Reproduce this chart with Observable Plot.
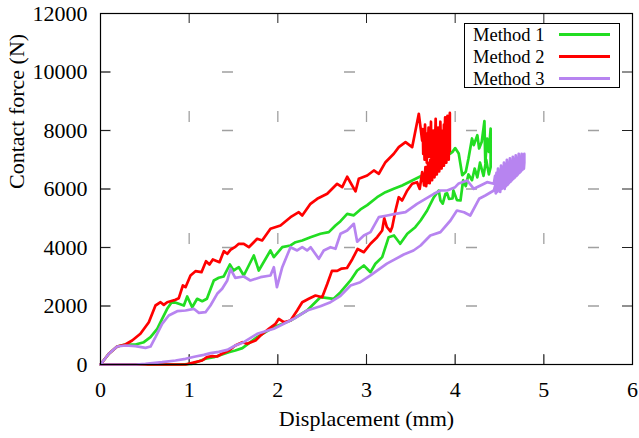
<!DOCTYPE html>
<html>
<head>
<meta charset="utf-8">
<script src="https://cdn.jsdelivr.net/npm/d3@7"></script>
<script src="https://cdn.jsdelivr.net/npm/@observablehq/plot@0.6"></script>
<style>
  body { margin: 0; background: #fff; }
  #wrap { position: relative; width: 639px; height: 438px; font-family: "Liberation Serif", "Times New Roman", serif; }
  #wrap svg text { font-family: "Liberation Serif", "Times New Roman", serif; }
  #legend { position: absolute; left: 464px; top: 23px; width: 156px; height: 65px; box-sizing: border-box;
            border: 1px solid #000; background: #fff; }
  .row { position: absolute; left: 8px; height: 22px; line-height: 22px; font-size: 18.5px; color: #000; white-space: nowrap; }
  .swatch { position: absolute; left: 94px; width: 51px; height: 3px; }
</style>
</head>
<body>
<div id="wrap"><div id="legend"></div></div>
<script>
// ---- data ----
const methods = ["Method 1", "Method 2", "Method 3"];
const colors = ["#22dd22", "#ff0000", "#b784f0"];
const xTicks = [0, 1, 2, 3, 4, 5, 6];
const yTicks = [0, 2000, 4000, 6000, 8000, 10000, 12000];
const xGrid = [1, 2, 3, 4, 5];
const yGrid = [2000, 4000, 6000, 8000, 10000];

// Method 1 (green): upper branch and lower branch
const m1Load = [[0,0],[0.094,366],[0.188,615],[0.28,684],[0.395,684],[0.489,763],[0.564,934],[0.64,1220],[0.695,1562],[0.752,1904],[0.809,2154],[0.883,2075],[0.94,2017],[0.978,2325],[1.034,1959],[1.09,2246],[1.147,2164],[1.2,2246],[1.278,2872],[1.334,2964],[1.39,3009],[1.459,3419],[1.5,3214],[1.56,3327],[1.616,3043],[1.729,3727],[1.785,3214],[1.917,3898],[1.955,3670],[2.05,4011],[2.143,4069],[2.2,4181],[2.275,4240],[2.368,4353],[2.481,4469],[2.575,4525],[2.65,4752],[2.707,4900],[2.782,5150],[2.857,5100],[2.932,5300],[3.008,5450],[3.12,5720],[3.214,5891],[3.308,6006],[3.402,6120],[3.515,6291],[3.628,6462],[3.703,6633],[3.76,6700],[3.81,6650],[3.85,6900],[3.87,7043],[3.91,7385],[3.94,7200],[3.97,7270],[4.0,7400],[4.04,7215],[4.08,6470],[4.12,6590],[4.15,7040],[4.19,7727],[4.21,7500],[4.25,7840],[4.27,7385],[4.3,7614],[4.33,8320],[4.34,6900],[4.36,7727],[4.38,7270],[4.4,8069]];
const m1Lower = [[0,0],[0.9,0],[1.034,24],[1.11,113],[1.184,195],[1.278,250],[1.372,342],[1.447,421],[1.52,480],[1.6,560],[1.767,934],[1.955,1275],[2.143,1504],[2.33,1846],[2.48,2301],[2.63,2246],[2.707,2472],[2.82,2872],[2.895,3214],[2.97,3385],[3.045,3156],[3.1,3443],[3.177,3670],[3.25,4353],[3.31,4411],[3.38,4127],[3.46,4469],[3.55,4695],[3.61,4923],[3.684,5265],[3.76,5720],[3.815,5949],[3.834,5607],[3.86,5500],[3.89,5836],[3.91,5850],[3.93,5665],[3.97,5675],[3.98,5950],[4.02,5620],[4.06,5607],[4.09,6300],[4.12,6100],[4.15,6500],[4.19,6300],[4.22,6700],[4.25,6400],[4.28,6900],[4.32,6450],[4.35,7000],[4.38,6500],[4.4,6750]];

// Method 2 (red)
const m2Load = [[0,0],[0.094,366],[0.188,615],[0.28,684],[0.357,820],[0.45,1050],[0.545,1446],[0.62,2017],[0.677,2130],[0.714,2040],[0.752,2130],[0.846,2212],[0.883,2267],[0.929,2701],[0.959,2643],[1.015,3043],[1.071,3190],[1.139,3156],[1.19,3532],[1.229,3419],[1.267,3590],[1.342,3498],[1.391,3874],[1.429,3785],[1.466,3922],[1.515,4011],[1.56,4127],[1.616,4127],[1.673,4011],[1.767,4297],[1.823,4240],[1.917,4640],[2.03,4752],[2.143,5036],[2.236,5207],[2.275,5094],[2.368,5494],[2.444,5665],[2.557,5836],[2.669,6178],[2.726,6062],[2.782,6420],[2.876,5920],[2.913,6349],[3.008,6462],[3.083,6633],[3.139,6520],[3.214,6917],[3.308,7204],[3.364,7430],[3.44,7600],[3.515,7430],[3.59,8571],[3.628,7659],[3.635,8050],[3.64,7200],[3.648,7850],[3.655,7000],[3.66,8200],[3.667,7400],[3.673,7900],[3.68,6900],[3.686,7700],[3.692,7300],[3.70,8100],[3.706,7100],[3.712,7800],[3.72,7400],[3.727,8300],[3.733,7000],[3.74,7600],[3.747,7300],[3.753,8000],[3.76,7150],[3.767,7900],[3.773,7500],[3.78,8400],[3.787,7200],[3.793,7700],[3.80,7400],[3.807,8100],[3.813,7100],[3.82,7800],[3.827,7600],[3.833,8300],[3.84,7300],[3.847,7900],[3.853,7500],[3.86,8000],[3.867,7200],[3.873,8200],[3.88,7700],[3.887,8450],[3.893,7400],[3.90,8100],[3.907,7800],[3.913,8500],[3.92,7500],[3.927,8200],[3.933,7900],[3.94,8600]];
const m2Lower = [[0,0],[0.96,0],[1.07,80],[1.147,137],[1.2,250],[1.26,285],[1.316,274],[1.37,366],[1.45,479],[1.52,650],[1.6,763],[1.654,707],[1.748,820],[1.805,991],[1.898,1220],[1.974,1391],[2.011,1562],[2.067,1446],[2.143,1504],[2.218,1846],[2.275,2130],[2.349,2246],[2.425,2359],[2.5,2301],[2.557,2750],[2.61,3200],[2.67,3200],[2.72,3280],[2.78,3300],[2.84,3600],[2.9,3950],[2.97,3840],[3.045,4127],[3.12,4353],[3.177,4582],[3.2,5000],[3.23,4700],[3.27,4550],[3.29,4700],[3.327,5265],[3.364,5720],[3.402,5607],[3.46,5949],[3.515,6178],[3.57,6233],[3.6,6000],[3.628,6575],[3.65,6120],[3.665,6746],[3.673,6100],[3.68,6500],[3.687,6200],[3.693,6900],[3.70,6300],[3.707,6700],[3.713,6200],[3.72,7000],[3.727,6400],[3.733,6800],[3.74,6300],[3.747,7100],[3.753,6500],[3.76,6900],[3.767,6400],[3.773,7200],[3.78,6700],[3.787,7000],[3.793,6500],[3.80,7300],[3.807,6700],[3.813,7100],[3.82,6600],[3.827,7400],[3.833,6800],[3.84,7200],[3.847,6700],[3.853,7600],[3.86,6900],[3.867,7300],[3.873,6800],[3.88,7700],[3.887,7000],[3.893,7500],[3.90,6900],[3.907,7900],[3.913,7100],[3.92,7600],[3.927,7000],[3.933,7800],[3.94,7300]];

// Method 3 (purple)
const m3Load = [[0,0],[0.094,366],[0.188,615],[0.28,650],[0.395,626],[0.507,570],[0.564,615],[0.62,934],[0.695,1390],[0.77,1675],[0.865,1822],[0.959,1846],[1.052,1904],[1.11,1767],[1.184,1788],[1.24,2017],[1.316,2417],[1.372,2588],[1.43,2872],[1.466,3272],[1.52,2964],[1.616,3009],[1.69,2872],[1.805,2985],[1.917,3043],[1.955,3327],[1.99,2643],[2.05,3327],[2.143,4011],[2.218,3898],[2.275,4011],[2.33,3898],[2.37,4011],[2.462,3614],[2.518,3898],[2.594,4011],[2.65,3956],[2.707,4469],[2.782,4582],[2.857,4810],[2.895,4200],[2.97,4411],[3.045,4525],[3.139,5036],[3.233,5094],[3.327,5150],[3.44,5207],[3.57,5493],[3.665,5665],[3.76,5836],[3.834,5949],[3.91,5949],[4.0,6062],[4.04,6190],[4.136,6291],[4.21,6006],[4.286,6120],[4.36,6233],[4.436,6178],[4.45,6450],[4.458,6150],[4.466,6550],[4.475,6250],[4.483,6700],[4.492,6300],[4.50,6600],[4.508,6250],[4.517,6800],[4.525,6400],[4.533,6700],[4.542,6350],[4.55,6900],[4.558,6450],[4.567,6750],[4.575,6400],[4.583,7000],[4.592,6500],[4.60,6850],[4.608,6550],[4.617,7050],[4.625,6600],[4.633,6900],[4.642,6500],[4.65,7100],[4.658,6700],[4.667,6950],[4.675,6600],[4.683,7150],[4.692,6750],[4.70,7000],[4.708,6700],[4.717,7200],[4.725,6800],[4.733,7050],[4.742,6750],[4.75,7200],[4.758,6850],[4.767,7150],[4.775,6900],[4.78,7200]];
const m3Lower = [[0,0],[0.4,0],[0.507,24],[0.695,80],[0.846,137],[0.959,195],[1.071,274],[1.165,330],[1.24,387],[1.334,433],[1.43,502],[1.52,650],[1.616,763],[1.767,1050],[1.955,1220],[2.067,1391],[2.18,1562],[2.33,1846],[2.48,1990],[2.594,2130],[2.707,2350],[2.82,2701],[2.93,2814],[3.045,3050],[3.23,3450],[3.42,3760],[3.53,3898],[3.61,4069],[3.72,4411],[3.834,4525],[3.947,4923],[4.02,5265],[4.1,5207],[4.17,5094],[4.27,5665],[4.34,5778],[4.436,5949],[4.45,6100],[4.458,5850],[4.466,6200],[4.475,5900],[4.483,6250],[4.492,5950],[4.50,6300],[4.508,5900],[4.517,6350],[4.525,6000],[4.533,6400],[4.542,6050],[4.55,6350],[4.558,6000],[4.567,6500],[4.575,6100],[4.583,6450],[4.592,6150],[4.60,6600],[4.608,6200],[4.617,6550],[4.625,6250],[4.633,6700],[4.642,6300],[4.65,6650],[4.658,6350],[4.667,6800],[4.675,6400],[4.683,6750],[4.692,6450],[4.70,6900],[4.708,6500],[4.717,6850],[4.725,6550],[4.733,7000],[4.742,6600],[4.75,6950],[4.758,6650],[4.767,7100],[4.775,6700],[4.78,6900]];

// ---- build table ----
const branches = [[m1Load, m1Lower], [m2Load, m2Lower], [m3Load, m3Lower]];
const rows = [];
branches.forEach(([load, lower], i) => {
  load.concat(lower.slice().reverse()).forEach(([x, y]) => rows.push({x, y, method: methods[i]}));
});

const chart = Plot.plot({
  width: 639,
  height: 438,
  marginLeft: 100,
  marginRight: 7,
  marginTop: 13,
  marginBottom: 74,
  style: {fontFamily: "Liberation Serif, Times New Roman, serif", fontSize: "22px", background: "#fff", color: "#000"},
  x: {domain: [0, 6], ticks: xTicks, tickSize: 0, tickPadding: 17, label: null, tickFormat: d => String(d)},
  y: {domain: [0, 12000], ticks: yTicks, tickSize: 0, tickPadding: 13, label: null, tickFormat: d => String(d)},
  color: {domain: methods, range: colors},
  marks: [
    Plot.ruleX(xGrid, {x: d => d, stroke: "#a0a0a0", strokeWidth: 1.3, strokeDasharray: "11,111", strokeDashoffset: 24}),
    Plot.ruleY(yGrid, {y: d => d, stroke: "#a0a0a0", strokeWidth: 1.3, strokeDasharray: "11,111"}),
    Plot.ruleX(xTicks, {x: d => d, insetTop: 341, stroke: "#222"}),
    Plot.ruleX(xTicks, {x: d => d, insetBottom: 341, stroke: "#222"}),
    Plot.ruleY(yTicks, {y: d => d, insetRight: 522, stroke: "#222"}),
    Plot.ruleY(yTicks, {y: d => d, insetLeft: 522, stroke: "#222"}),
    Plot.line(rows, {x: "x", y: "y", z: "method", stroke: "method", strokeWidth: 2.7, strokeLinejoin: "round"}),
    Plot.frame({stroke: "#000", strokeWidth: 1.2}),
    Plot.text(["Displacement (mm)"], {text: d => d, frameAnchor: "bottom", dy: 61, lineAnchor: "bottom", fontSize: 22}),
    Plot.text(["Contact force (N)"], {text: d => d, frameAnchor: "left", dx: -77, rotate: -90, lineAnchor: "bottom", fontSize: 22})
  ]
});
document.getElementById("wrap").prepend(chart);

// ---- legend ----
const legend = document.getElementById("legend");
methods.forEach((m, i) => {
  const r = document.createElement("div");
  r.className = "row";
  r.style.top = (i * 22) + "px";
  r.textContent = m;
  legend.appendChild(r);
  const s = document.createElement("div");
  s.className = "swatch";
  s.style.top = (i * 22 + 9) + "px";
  s.style.background = colors[i];
  legend.appendChild(s);
});
</script>
</body>
</html>
